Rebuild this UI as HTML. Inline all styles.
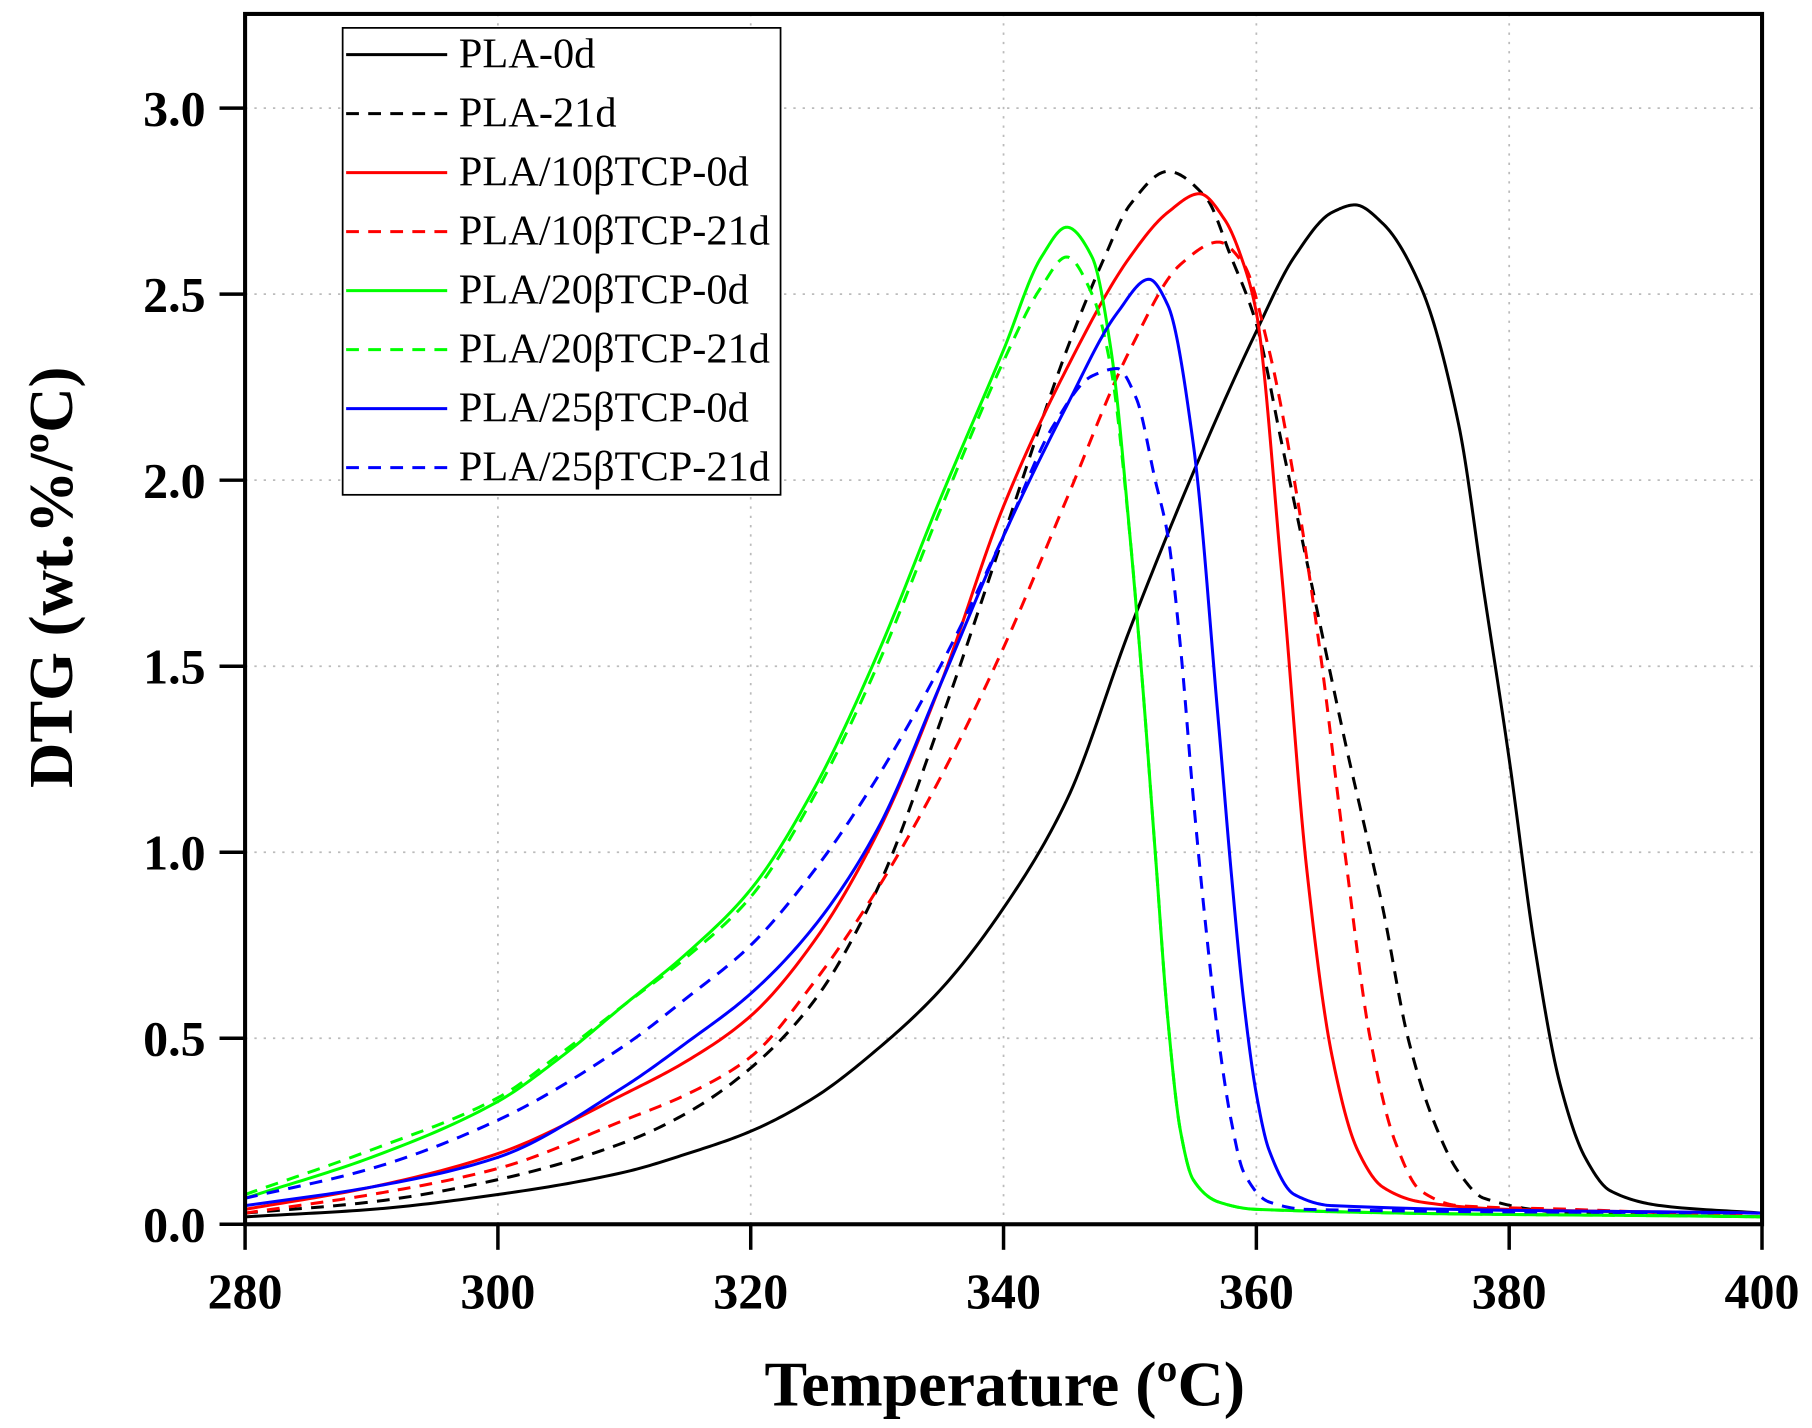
<!DOCTYPE html>
<html><head><meta charset="utf-8"><style>
html,body{margin:0;padding:0;background:#fff;}
svg{display:block;}
text{font-family:"Liberation Serif",serif;}
</style></head><body>
<svg id="s" width="1812" height="1428" viewBox="0 0 1560 1229.4" preserveAspectRatio="none" xmlns="http://www.w3.org/2000/svg">
<g id="grid" stroke="#bbb" stroke-width="1.5" stroke-dasharray="2,6"></g>
<g id="curves" fill="none" stroke-width="2.6" stroke-linejoin="round"></g>
<rect x="211" y="12" width="1306" height="1042" fill="none" stroke="#000" stroke-width="3.5"/>
<g id="ticks" stroke="#000" stroke-width="3"></g>
<g id="labels" font-weight="bold" font-size="43"></g>
<text x="865" y="1210" font-size="55" font-weight="bold" text-anchor="middle">Temperature (ºC)</text>
<text transform="translate(62,497) rotate(-90)" font-size="54" font-weight="bold" text-anchor="middle">DTG (wt.%/ºC)</text>
<g>
<rect x="295" y="24" width="377" height="402" fill="#fff" stroke="#000" stroke-width="1.5"/>
<g id="legend" stroke-width="2.6" font-size="36.5"></g>
</g>
</svg>
<script>
const NS="http://www.w3.org/2000/svg";
const X=t=>211+(t-280)*10.883, Y=v=>1054-v*320.3;
function el(p,tag,a,txt){const e=document.createElementNS(NS,tag);for(const k in a)e.setAttribute(k,a[k]);if(txt)e.textContent=txt;p.appendChild(e);return e;}
const g=document.getElementById('grid'),tk=document.getElementById('ticks'),lb=document.getElementById('labels');
for(let t=300;t<400;t+=20)el(g,'line',{x1:X(t),x2:X(t),y1:12,y2:1054});
for(let v=0.5;v<=3.01;v+=0.5)el(g,'line',{x1:211,x2:1517,y1:Y(v),y2:Y(v)});
for(let t=280;t<=400;t+=20){el(tk,'line',{x1:X(t),x2:X(t),y1:1054,y2:1076});el(lb,'text',{x:X(t),y:1126,'text-anchor':'middle'},String(t));}
for(let i=0;i<=6;i++){const v=i*0.5;el(tk,'line',{x1:189,x2:211,y1:Y(v),y2:Y(v)});el(lb,'text',{x:177,y:Y(v)+15,'text-anchor':'end'},v.toFixed(1));}
const S=[
["#000",0,[[280,.02],[290,.04],[300,.08],[310,.14],[315,.19],[320,.25],[325,.34],[330,.47],[335,.63],[340,.85],[345,1.14],[350,1.6],[355,2.02],[360,2.4],[363,2.6],[366,2.72],[367.8,2.74],[370,2.69],[373,2.52],[376,2.15],[378,1.7],[380,1.25],[382,0.75],[384,0.38],[386,0.18],[388,0.09],[392,0.05],[400,0.03]]],
["#000",1,[[280,.03],[290,.06],[300,.12],[310,.22],[315,.3],[320,.42],[325,.6],[330,.9],[335,1.35],[340,1.85],[345,2.35],[348,2.6],[350,2.74],[353,2.83],[356,2.76],[358,2.6],[360,2.42],[362,2.1],[364,1.78],[367,1.3],[370,.85],[372,.5],[374,.28],[376,.14],[378,.07],[385,.03],[400,.02]]],
["#f00",0,[[280,.04],[290,.1],[300,.19],[310,.35],[315,.44],[320,.56],[325,.76],[330,1.05],[335,1.45],[340,1.93],[345,2.3],[350,2.6],[353,2.72],[355.5,2.77],[357.5,2.7],[359,2.58],[360,2.45],[362,1.75],[364,.95],[366,.45],[368,.2],[370,.1],[373,.06],[380,.04],[400,.03]]],
["#f00",1,[[280,.03],[290,.08],[300,.15],[310,.28],[315,.35],[320,.45],[325,.65],[330,.9],[335,1.2],[340,1.55],[345,1.95],[350,2.35],[354,2.58],[357,2.64],[359,2.58],[361,2.35],[363,2.0],[365,1.55],[367,1.0],[369,.5],[371,.22],[373,.09],[376,.05],[385,.04],[400,.02]]],
["#0f0",0,[[280,.07],[290,.18],[300,.33],[305,.45],[310,.59],[315,.73],[320,.9],[325,1.17],[330,1.53],[335,1.95],[340,2.35],[343,2.6],[345,2.68],[347,2.6],[348.5,2.35],[350,1.85],[351,1.45],[352,1.0],[353,.55],[354,.25],[355,.12],[357,.06],[360,.04],[400,.02]]],
["#0f0",1,[[280,.08],[290,.2],[300,.34],[305,.46],[310,.59],[315,.72],[320,.88],[325,1.15],[330,1.5],[335,1.92],[340,2.32],[343,2.52],[345,2.6],[347,2.5],[348.5,2.3],[350,1.85],[351,1.45],[352,1.0],[353,.55],[354,.25],[355,.12],[357,.06],[360,.04],[400,.02]]],
["#00f",0,[[280,.05],[290,.1],[300,.18],[310,.37],[315,.49],[320,.62],[325,.8],[330,1.06],[335,1.45],[340,1.85],[345,2.2],[349,2.45],[351.5,2.54],[353,2.47],[355,2.1],[357,1.35],[358,.95],[359,.6],[360,.35],[361,.2],[363,.08],[366,.05],[400,.03]]],
["#00f",1,[[280,.07],[290,.15],[300,.28],[310,.48],[315,.61],[320,.75],[325,.95],[330,1.2],[335,1.5],[340,1.85],[344,2.15],[347,2.28],[349,2.3],[350.5,2.22],[352,2.0],[353,1.85],[354,1.55],[355,1.15],[356,.8],[357,.5],[358,.28],[359,.14],[361,.06],[364,.04],[400,.03]]]
];
function monotone(pts){
 const n=pts.length,x=pts.map(p=>p[0]),y=pts.map(p=>p[1]);
 const d=[],m=[];
 for(let i=0;i<n-1;i++)d.push((y[i+1]-y[i])/(x[i+1]-x[i]));
 m[0]=d[0];m[n-1]=d[n-2];
 for(let i=1;i<n-1;i++){
  if(d[i-1]*d[i]<=0)m[i]=0;
  else{const w1=2*(x[i+1]-x[i])+(x[i]-x[i-1]),w2=(x[i+1]-x[i])+2*(x[i]-x[i-1]);m[i]=(w1+w2)/(w1/d[i-1]+w2/d[i]);}
 }
 let s='M'+X(x[0])+','+Y(y[0]);
 for(let i=0;i<n-1;i++){
  const h=x[i+1]-x[i];
  for(let k=1;k<=20;k++){
   const t=k/20,t2=t*t,t3=t2*t;
   const v=(2*t3-3*t2+1)*y[i]+(t3-2*t2+t)*h*m[i]+(-2*t3+3*t2)*y[i+1]+(t3-t2)*h*m[i+1];
   s+=' L'+X(x[i]+t*h).toFixed(2)+','+Y(v).toFixed(2);
  }
 }
 return s;
}
const cg=document.getElementById('curves');
S.forEach(s=>{el(cg,'path',{d:monotone(s[2]),stroke:s[0],'stroke-dasharray':s[1]?'11,8':'none'});});
const names=["PLA-0d","PLA-21d","PLA/10βTCP-0d","PLA/10βTCP-21d","PLA/20βTCP-0d","PLA/20βTCP-21d","PLA/25βTCP-0d","PLA/25βTCP-21d"];
const lg=document.getElementById('legend');
names.forEach((n,i)=>{const y=47+i*50.8;el(lg,'line',{x1:298,x2:385,y1:y,y2:y,stroke:S[i][0],'stroke-dasharray':S[i][1]?'11,8':'none'});
el(lg,'text',{x:395,y:y+11,fill:'#000'},n);});
</script>
</body></html>
